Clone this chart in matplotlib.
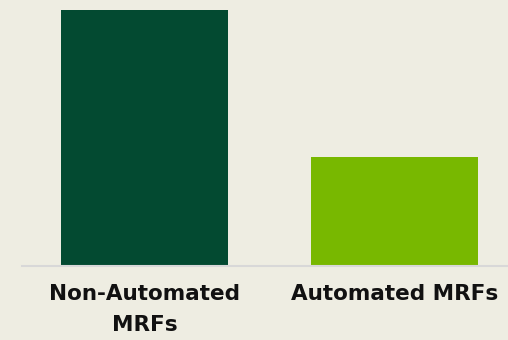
import matplotlib
matplotlib.use("Agg")
import matplotlib.pyplot as plt

categories = ["Non-Automated\nMRFs", "Automated MRFs"]
values = [100, 42.6]
colors = ["#034A31", "#78B800"]

bg = "#EEEDE2"

fig = plt.figure(figsize=(5.08, 3.4), dpi=100, facecolor=bg)
ax = fig.add_axes([22 / 508, 74 / 340, 486 / 508, 266 / 340], facecolor=bg)

x = range(len(categories))
ax.bar(x, values, width=0.668, color=colors)

ax.set_xlim(-0.49, 1.454)
ax.set_ylim(0, 103.9)

for side in ["left", "right", "top"]:
    ax.spines[side].set_visible(False)
ax.spines["bottom"].set_color("#D8D8D8")
ax.spines["bottom"].set_linewidth(1.5)

ax.set_yticks([])
ax.set_xticks(list(x))
ax.set_xticklabels(categories, fontfamily="DejaVu Sans", fontweight="bold",
                   fontsize=15.5, color="#111111", linespacing=1.7)
ax.tick_params(axis="x", length=0, pad=13)

fig.savefig("out.png", dpi=100, facecolor=bg)
